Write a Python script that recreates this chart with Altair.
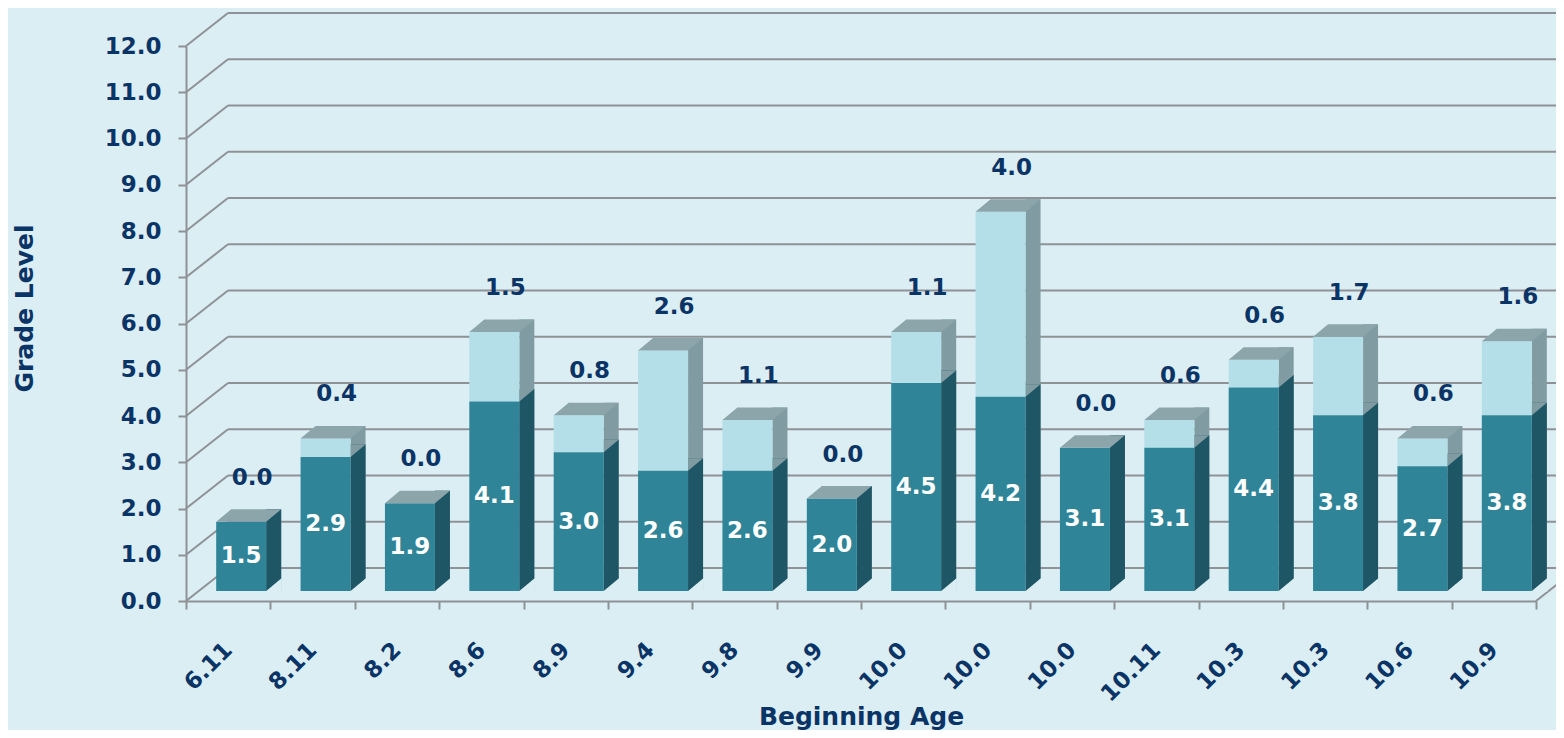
import altair as alt
import pandas as pd

# ---------------- data ----------------
ages = ['6.11', '8.11', '8.2', '8.6', '8.9', '9.4', '9.8', '9.9',
        '10.0', '10.0', '10.0', '10.11', '10.3', '10.3', '10.6', '10.9']
base_vals = [1.5, 2.9, 1.9, 4.1, 3.0, 2.6, 2.6, 2.0, 4.5, 4.2, 3.1, 3.1, 4.4, 3.8, 2.7, 3.8]
gain_vals = [0.0, 0.4, 0.0, 1.5, 0.8, 2.6, 1.1, 0.0, 1.1, 4.0, 0.0, 0.6, 0.6, 1.7, 0.6, 1.6]
grid_levels = list(range(13))

keys = [str(i) for i in range(len(ages))]
df = pd.DataFrame({'key': keys, 'age': ages, 'base': base_vals, 'gain': gain_vals})
df['total'] = df['base'] + df['gain']
df['mid'] = df['base'] / 2
df['zero'] = 0.0
grid_df = pd.DataFrame({'v': grid_levels})
floor_df = pd.DataFrame({'v': [0]})

# ---------------- style ----------------
W, H = 1350, 555
BG = '#dbeef4'
NAVY = '#0b3466'
GRAY = '#8e9296'
DARK_FRONT = '#2f8498'
DARK_SIDE = '#1e5666'
LIGHT_FRONT = '#b5dfe8'
LIGHT_SIDE = '#809ca2'
TOP = '#8ca5ab'
FONT = 'DejaVu Sans'

WALL_X, WALL_Y = 42, 33      # depth of back wall
BX, BY = 13, 10              # shift of bar plane
BAR_W = 50
DX, DY = 15, 12.5            # bar depth
XR = BX + BAR_W / 2          # front-right edge offset from band centre
S = 33.0
SZ = (2 * S) ** 2


def pth(points):
    return 'M' + 'L'.join(f'{x / S:.4f},{y / S:.4f}' for x, y in points) + 'Z'


top_path = pth([(-BAR_W, 0), (0, 0), (DX, -DY), (DX - BAR_W, -DY)])
tri_path = pth([(0, 0), (0, -DY), (DX, -DY)])
bg_path = pth([(0, 0.6), (0, 0), (DX, -DY), (DX + 0.6, -DY), (DX + 0.6, 0.6)])

yscale = alt.Scale(domain=[0, 12], nice=False, zero=True)
yaxis = alt.Axis(values=grid_levels, format='.1f', grid=False,
                 labelFont=FONT, labelFontSize=23, labelFontWeight='bold', labelColor=NAVY,
                 labelPadding=17, tickSize=8, tickColor=GRAY, tickWidth=2,
                 domainColor=GRAY, domainWidth=2,
                 titleFont=FONT, titleFontSize=25, titleFontWeight='bold', titleColor=NAVY,
                 titleAngle=270, titleX=-162, titleY=262, titleAlign='center',
                 titleBaseline='middle')

label_js = '[' + ','.join(f"'{a}'" for a in ages) + ']'
xaxis = alt.Axis(labelExpr=f'{label_js}[toNumber(datum.value)]',
                 labelAngle=315, labelAlign='right', labelBaseline='middle',
                 labelFont=FONT, labelFontSize=23, labelFontWeight='bold', labelColor=NAVY,
                 labelPadding=37, tickSize=8, tickColor=GRAY, tickWidth=2, tickBand='extent',
                 domainColor=GRAY, domainWidth=2,
                 titleFont=FONT, titleFontSize=25, titleFontWeight='bold', titleColor=NAVY,
                 titleX=W / 2, titleY=115, titleAlign='center', titleBaseline='middle')


def Y(field):
    return alt.Y(field, type='quantitative', scale=yscale, axis=yaxis, title='Grade Level')


X = alt.X('key:N', sort=keys, scale=alt.Scale(paddingInner=0, paddingOuter=0),
          axis=xaxis, title='Beginning Age')

base = alt.Chart(df)

grid_back = alt.Chart(grid_df).mark_rule(color=GRAY, strokeWidth=2, yOffset=-WALL_Y).encode(
    x=alt.value(WALL_X), x2=alt.value(W + 80), y=Y('v'))
grid_diag = alt.Chart(grid_df).mark_rule(color=GRAY, strokeWidth=2, y2Offset=-WALL_Y).encode(
    x=alt.value(0), x2=alt.value(WALL_X), y=Y('v'), y2='v:Q')
floor_right = alt.Chart(floor_df).mark_rule(color=GRAY, strokeWidth=2, y2Offset=-WALL_Y).encode(
    x=alt.value(W), x2=alt.value(W + WALL_X), y=Y('v'), y2='v:Q')

side_light = base.mark_bar(width=DX, xOffset=XR + DX / 2, yOffset=-(BY + DY), y2Offset=-BY,
                           color=LIGHT_SIDE).encode(x=X, y=Y('total'), y2='zero:Q')
side_dark = base.mark_bar(width=DX, xOffset=XR + DX / 2, yOffset=-(BY + DY), y2Offset=-BY,
                          color=DARK_SIDE).encode(x=X, y=Y('base'), y2='zero:Q')
patch_light = base.transform_filter('datum.gain > 0').mark_point(
    shape=tri_path, size=SZ, filled=True, opacity=1, strokeWidth=0, color=LIGHT_SIDE,
    xOffset=XR, yOffset=-BY).encode(x=X, y=Y('base'))
patch_bg = base.mark_point(
    shape=bg_path, size=SZ, filled=True, opacity=1, strokeWidth=0, color=BG,
    xOffset=XR, yOffset=-BY).encode(x=X, y=Y('zero'))
front_light = base.mark_bar(width=BAR_W, xOffset=BX, yOffset=-BY, y2Offset=-BY,
                            color=LIGHT_FRONT).encode(x=X, y=Y('total'), y2='base:Q')
front_dark = base.mark_bar(width=BAR_W, xOffset=BX, yOffset=-BY, y2Offset=-BY,
                           color=DARK_FRONT).encode(x=X, y=Y('base'), y2='zero:Q')
top_face = base.mark_point(
    shape=top_path, size=SZ, filled=True, opacity=1, strokeWidth=0, color=TOP,
    xOffset=XR, yOffset=-BY).encode(x=X, y=Y('total'))

labels_in = base.mark_text(font=FONT, fontSize=23, fontWeight='bold', color='white',
                           xOffset=BX, yOffset=-BY, baseline='middle', align='center').encode(
    x=X, y=Y('mid'), text=alt.Text('base:Q', format='.1f'))
labels_top = base.mark_text(font=FONT, fontSize=23, fontWeight='bold', color=NAVY,
                            xOffset=BX + 11, yOffset=-BY - 44, baseline='middle',
                            align='center').encode(
    x=X, y=Y('total'), text=alt.Text('gain:Q', format='.1f'))

chart = alt.layer(
    grid_back, grid_diag, floor_right,
    side_light, side_dark, patch_light, patch_bg,
    front_light, front_dark, top_face,
    labels_in, labels_top,
).properties(
    width=W, height=H, background=BG, autosize='none',
    padding={'left': 178, 'top': 38, 'right': 20, 'bottom': 129},
).configure_view(stroke=None)

chart.save('out.html', embed_options={'renderer': 'svg', 'actions': False})
